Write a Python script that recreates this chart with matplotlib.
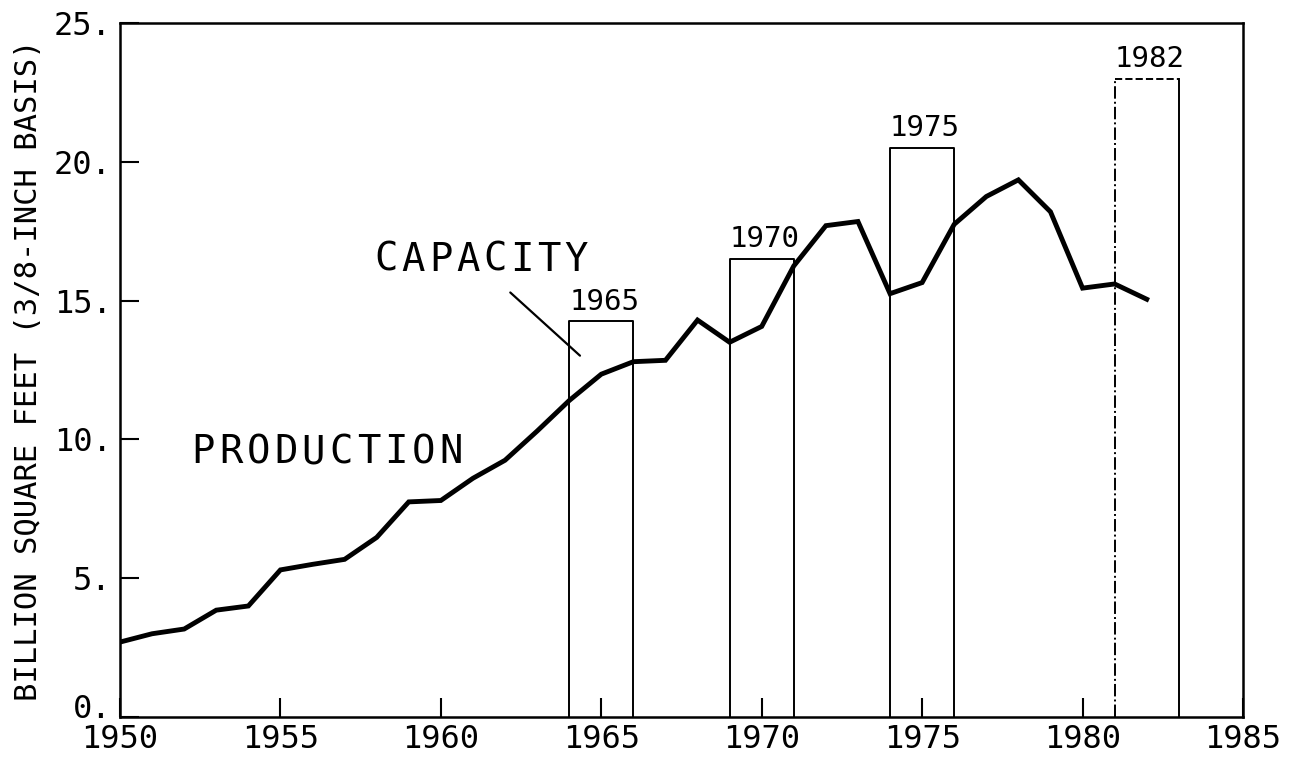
import numpy as np
import matplotlib
matplotlib.use('Agg')
import matplotlib.pyplot as plt
import matplotlib.transforms as mtransforms

years = list(range(1950, 1983))
production = [2.7, 3.0, 3.17, 3.85, 4.0, 5.3, 5.5, 5.68, 6.47, 7.75,
              7.8, 8.6, 9.25, 10.3, 11.4, 12.35, 12.8, 12.85, 14.3, 13.5,
              14.07, 16.25, 17.7, 17.85, 15.25, 15.65, 17.75, 18.75, 19.35, 18.2,
              15.45, 15.6, 15.05]

cap_labels = ['1965', '1970', '1975', '1982']
cap_start = [1964, 1969, 1974, 1981]
cap_end = [1966, 1971, 1976, 1983]
capacity = [14.25, 16.5, 20.5, 23.0]

x_ticks = [1950, 1955, 1960, 1965, 1970, 1975, 1980, 1985]
y_ticks = [0, 5, 10, 15, 20, 25]

plt.rcParams['font.family'] = ['DejaVu Sans Mono']


def spaced_text(ax, x, y, s, step, **kw):
    # plotter lettering: wide, even spacing between characters
    for i, ch in enumerate(s):
        ax.annotate(ch, xy=(x, y), xytext=(i * step, 0), textcoords='offset points',
                    ha='center', va='center', **kw)


fig = plt.figure(figsize=(12.89, 7.57), dpi=100)
ax = fig.add_axes([0.0931, 0.0528, 0.8712, 0.9168])

# capacity boxes
for lab, x0, x1, c in zip(cap_labels, cap_start, cap_end, capacity):
    if lab == '1982':
        # projected: dash-dot left side
        ax.plot([x0, x0], [0, c], color='black', lw=1.4, ls='-.')
        ax.plot([x0, x1], [c, c], color='black', lw=1.4, ls='--')
        ax.plot([x1, x1], [c, 0], color='black', lw=1.4)
    else:
        ax.plot([x0, x0, x1, x1], [0, c, c, 0], color='black', lw=1.4)
    ax.text(x0, c + 0.2, lab, ha='left', va='bottom', fontsize=21)

# production line
ax.plot(years, production, color='black', lw=3.5, solid_joinstyle='miter')

spaced_text(ax, 1952.6, 9.53, 'PRODUCTION', 19.8, fontsize=28)
spaced_text(ax, 1958.3, 16.47, 'CAPACITY', 19.5, fontsize=28)
ax.annotate('', xy=(1964.4, 12.95), xytext=(1962.1, 15.36),
            arrowprops=dict(arrowstyle='-', color='black', lw=1.6))

ax.set_xlim(1950, 1985)
ax.set_ylim(0, 25)
ax.set_xticks(x_ticks)
ax.set_xticklabels([str(t) for t in x_ticks])
ax.set_yticks(y_ticks)
ax.set_yticklabels([f'{t}.' for t in y_ticks])
ax.tick_params(direction='in', length=14, width=1.5, labelsize=23, pad=6)
ax.tick_params(axis='x', pad=5)
for s in ax.spines.values():
    s.set_linewidth(1.8)

# lift the "0." a little so it clears the 1950 label
lbl0 = ax.get_yticklabels()[0]
lbl0.set_transform(lbl0.get_transform() + mtransforms.ScaledTranslation(0, 8 / 72, fig.dpi_scale_trans))

ax.set_ylabel('BILLION SQUARE FEET (3/8-INCH BASIS)', fontsize=22, labelpad=8)

fig.savefig('out.png', dpi=100)
